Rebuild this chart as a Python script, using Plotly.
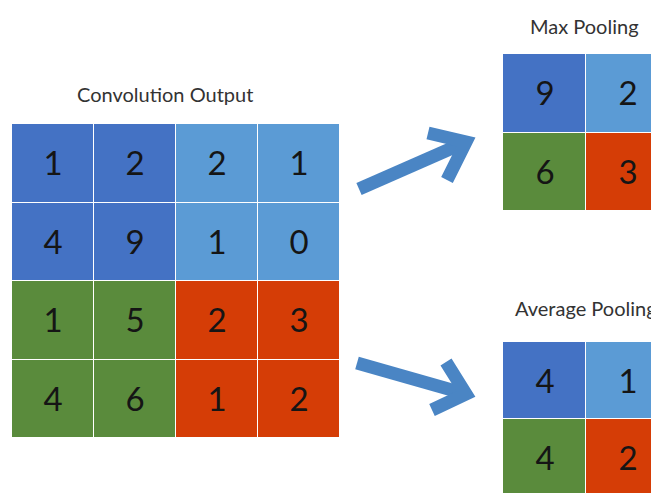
import plotly.graph_objects as go

# page body margin shifts the figure by 8px
OFF = 8
W, H = 659 - OFF, 493 - OFF

# ---- data ----
conv_values = [[1, 2, 2, 1],
               [4, 9, 1, 0],
               [1, 5, 2, 3],
               [4, 6, 1, 2]]
conv_groups = [[0, 0, 1, 1],
               [0, 0, 1, 1],
               [2, 2, 3, 3],
               [2, 2, 3, 3]]
max_values = [[9, 2],
              [6, 3]]
avg_values = [[4, 1],
              [4, 2]]
pool_groups = [[0, 1],
               [2, 3]]
titles = ["Convolution Output", "Max Pooling", "Average Pooling"]

group_colors = ["#4472C4", "#5B9BD5", "#5A8B3C", "#D53D06"]

def px(x):
    return (x - OFF) / W

def py(y):
    return 1 - (y - OFF) / H

cs = []
for i, c in enumerate(group_colors):
    cs.append([i / 4, c])
    cs.append([(i + 1) / 4, c])

def hm(z, vals, xa, ya):
    return go.Heatmap(
        z=z, text=[[str(v) for v in r] for r in vals],
        texttemplate="%{text}",
        textfont=dict(size=33, color="#151515", family="Lato"),
        colorscale=cs, zmin=-0.5, zmax=3.5, showscale=False,
        xgap=1, ygap=1, hoverinfo="skip", xaxis=xa, yaxis=ya)

fig = go.Figure()
fig.add_trace(hm(conv_groups, conv_values, "x", "y"))
fig.add_trace(hm(pool_groups, max_values, "x2", "y2"))
fig.add_trace(hm(pool_groups, avg_values, "x3", "y3"))

ax = dict(showgrid=False, zeroline=False, showticklabels=False, ticks="", showline=False)

cell_w = 83.0
bottom = OFF + H
right = OFF + W
fig.update_layout(
    width=W, height=H, margin=dict(l=0, r=0, t=0, b=0),
    paper_bgcolor="white", plot_bgcolor="white", showlegend=False,
    xaxis=dict(ax, domain=[px(12), px(340)], range=[-0.5, 3.5]),
    yaxis=dict(ax, domain=[py(438), py(124)], range=[3.5, -0.5]),
    xaxis2=dict(ax, domain=[px(503), 1], range=[-0.5, -0.5 + (right - 503) / cell_w]),
    yaxis2=dict(ax, domain=[py(211), py(54)], range=[1.5, -0.5]),
    xaxis3=dict(ax, domain=[px(503), 1], range=[-0.5, -0.5 + (right - 503) / cell_w]),
    yaxis3=dict(ax, domain=[0, py(342)], range=[-0.5 + (bottom - 342) / 77.0, -0.5]),
)

title_pos = [(165, 94), (584, 26), (586, 308)]
for t, (x, y) in zip(titles, title_pos):
    fig.add_annotation(text=t, x=px(x), y=py(y), xref="paper", yref="paper",
                       showarrow=False, xanchor="center", yanchor="middle",
                       font=dict(size=20, color="#333333", family="Lato"))

arrow_color = "#4A85C4"

def path(points):
    return "M " + " L ".join(f"{px(x)},{py(y)}" for x, y in points)

arrows = [
    [(359, 189), (466, 142)],
    [(357, 363), (466, 394)],
]
heads = [
    [(428, 133), (466, 142), (447, 180)],
    [(446, 362), (466, 394), (432, 410)],
]
for shaft, head in zip(arrows, heads):
    fig.add_shape(type="path", path=path(shaft), xref="paper", yref="paper",
                  line=dict(color=arrow_color, width=13))
    fig.add_shape(type="path", path=path(head), xref="paper", yref="paper",
                  line=dict(color=arrow_color, width=13))

fig.write_html("out.html")
